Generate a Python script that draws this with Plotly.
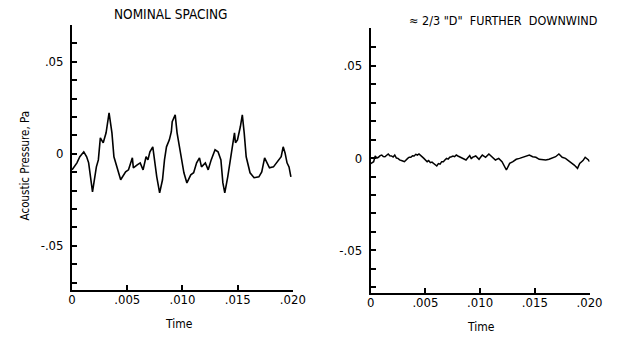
import plotly.graph_objects as go

# ---- data ----
time_left = [0.0, 0.00044, 0.0007, 0.00106, 0.00132, 0.0015, 0.00185, 0.00203, 0.0022, 0.00238,
             0.00256, 0.00282, 0.00308, 0.00335, 0.00361, 0.00379, 0.00414, 0.0044, 0.00485, 0.00511,
             0.00546, 0.00555, 0.0059, 0.00617, 0.00643, 0.0067, 0.00687, 0.00705, 0.00731, 0.00749,
             0.00767, 0.00793, 0.00819, 0.00837, 0.00855, 0.00881, 0.00899, 0.00907, 0.00934, 0.00951,
             0.00987, 0.01013, 0.0104, 0.01075, 0.01101, 0.01128, 0.01154, 0.01172, 0.01207, 0.01233,
             0.0126, 0.01295, 0.01322, 0.01348, 0.01366, 0.01383, 0.0141, 0.01436, 0.01454, 0.01471,
             0.0148, 0.01498, 0.01524, 0.01542, 0.01559, 0.01577, 0.01612, 0.01648, 0.01692, 0.01718,
             0.01744, 0.01771, 0.01788, 0.01824, 0.0185, 0.01877, 0.01894, 0.01912, 0.01929, 0.01947,
             0.01965, 0.01982]
pressure_left = [-0.0087, -0.0049, -0.0016, 0.0011, -0.0016, -0.0049, -0.0207, -0.0141, -0.0071, -0.0033,
                 0.0087, 0.006, 0.0114, 0.0223, 0.0114, -0.0016, -0.0087, -0.0141, -0.0098, -0.0087,
                 -0.0022, -0.0076, -0.006, -0.0049, -0.0087, -0.0016, -0.0033, 0.0011, 0.0038, -0.0049,
                 -0.0125, -0.0212, -0.0141, -0.0033, 0.0038, 0.0076, 0.012, 0.0174, 0.0212, 0.0114,
                 -0.0016, -0.0103, -0.0158, -0.0114, -0.0103, -0.0049, -0.0022, -0.0071, -0.0049, -0.0087,
                 -0.0033, 0.0022, 0.0011, -0.0033, -0.0158, -0.0212, -0.0125, -0.0033, 0.0038, 0.0114,
                 0.006, 0.0076, 0.0147, 0.0212, 0.0114, -0.0016, -0.0103, -0.013, -0.0125, -0.0098,
                 -0.0022, -0.006, -0.0076, -0.0071, -0.0049, -0.0033, -0.0016, 0.0038, 0.0005, -0.0049,
                 -0.0071, -0.0125]

time_right = [0.0, 0.00027, 0.00041, 0.00056, 0.00071, 0.00086, 0.00101, 0.00115, 0.0013, 0.00145,
              0.0016, 0.00175, 0.0019, 0.00205, 0.0022, 0.00235, 0.00249, 0.00264, 0.00279, 0.00293,
              0.00308, 0.00323, 0.00338, 0.00352, 0.00367, 0.00382, 0.00397, 0.00412, 0.00427, 0.00441,
              0.00456, 0.00471, 0.00486, 0.00501, 0.00516, 0.0053, 0.00545, 0.0056, 0.00575, 0.0059,
              0.00604, 0.00619, 0.00634, 0.00649, 0.00664, 0.00678, 0.00693, 0.00708, 0.00723, 0.00738,
              0.00752, 0.00767, 0.00782, 0.00797, 0.00812, 0.00826, 0.00841, 0.00856, 0.00871, 0.00886,
              0.00905, 0.0092, 0.0093, 0.0096, 0.0099, 0.0102, 0.0105, 0.0108, 0.0111, 0.0114,
              0.0117, 0.012, 0.0124, 0.0127, 0.013, 0.0133, 0.0136, 0.0139, 0.0142, 0.0145,
              0.0148, 0.0151, 0.0154, 0.0157, 0.016, 0.0163, 0.0166, 0.0169, 0.0172, 0.0175,
              0.0178, 0.018, 0.0183, 0.0186, 0.0189, 0.0191, 0.0194, 0.0196, 0.0199, 0.0200]
pressure_right = [-0.003, -0.002, 0.0011, 0.0, 0.0004, 0.0013, 0.0016, 0.0008, 0.0007, 0.0015,
                  0.0022, 0.0012, 0.0011, 0.0005, 0.0016, 0.0, -0.0002, -0.001, -0.0011, -0.0016,
                  -0.002, -0.0008, -0.0002, 0.0004, 0.0004, 0.0012, 0.0011, 0.002, 0.0016, 0.0022,
                  0.0011, 0.0006, -0.0002, -0.001, -0.002, -0.0014, -0.0025, -0.0022, -0.0029, -0.0035,
                  -0.0043, -0.003, -0.0033, -0.002, -0.002, -0.0011, -0.0002, -0.0006, 0.0004, 0.0007,
                  0.0011, 0.0007, 0.0016, 0.0011, 0.0007, 0.0002, -0.0002, -0.0007, -0.0011, 0.0,
                  0.0013, -0.0005, 0.0004, 0.0011, -0.0007, 0.0016, 0.0004, 0.0022, 0.0007, -0.0011,
                  -0.0002, -0.002, -0.0065, -0.0029, -0.002, -0.0007, -0.0002, 0.0004, 0.0011, 0.0016,
                  0.0007, 0.0004, -0.0007, -0.0011, -0.0011, -0.0007, -0.0002, 0.0007, 0.0022, 0.0004,
                  -0.0002, -0.0011, -0.002, -0.0038, -0.0056, -0.0029, -0.0014, 0.0004, -0.0011, -0.002]

y_tick_vals = [-0.07, -0.06, -0.05, -0.04, -0.03, -0.02, -0.01, 0.0, 0.01, 0.02, 0.03, 0.04, 0.05, 0.06, 0.07]
y_tick_text = ["", "", "-.05", "", "", "", "", "0", "", "", "", "", ".05", "", ""]
x_tick_vals = [0.0, 0.005, 0.010, 0.015, 0.020]
x_tick_text = ["0", ".005", ".010", ".015", ".020"]

titles = ["NOMINAL SPACING", "\u2248 2/3 \"D\"  FURTHER  DOWNWIND"]
y_title = "Acoustic Pressure, Pa"
x_title = "Time"

W, H = 622, 341
FONT = "Liberation Sans Narrow, DejaVu Sans Condensed, Arial Narrow, Liberation Sans, sans-serif"

fig = go.Figure()
fig.add_trace(go.Scatter(x=time_left, y=pressure_left, mode="lines",
                         line=dict(color="black", width=1.6), xaxis="x", yaxis="y", showlegend=False))
fig.add_trace(go.Scatter(x=time_right, y=pressure_right, mode="lines",
                         line=dict(color="black", width=1.5), xaxis="x2", yaxis="y2", showlegend=False))

def xax(x0, x1):
    return dict(domain=[x0 / W, x1 / W], range=[0, 0.02], showgrid=False, zeroline=False,
                showline=True, linecolor="black", linewidth=2, ticks="inside", ticklen=5,
                tickwidth=1.5, tickcolor="black", tickvals=x_tick_vals, ticktext=x_tick_text,
                tickfont=dict(family=FONT, size=13, color="black"), ticklabelstandoff=-4)

def yax(ytop, ybot, rtop, rbot):
    return dict(domain=[1 - ybot / H, 1 - ytop / H], range=[rbot, rtop], showgrid=False,
                zeroline=False, showline=True, linecolor="black", linewidth=2, ticks="inside",
                ticklen=5, tickwidth=1.5, tickcolor="black", tickvals=y_tick_vals,
                ticktext=y_tick_text, tickfont=dict(family=FONT, size=13, color="black"),
                ticklabelstandoff=4)

lx = xax(70, 297)
lx["anchor"] = "y"
ly = yax(25, 290, 0.070, -0.074)
ly["anchor"] = "x"
rx = xax(377, 602)
rx["anchor"] = "y2"
ry = yax(28, 293, 0.0703, -0.073)
ry["anchor"] = "x2"

fig.update_layout(
    width=W, height=H, margin=dict(l=0, r=0, t=0, b=0),
    paper_bgcolor="white", plot_bgcolor="white",
    xaxis=lx, yaxis=ly, xaxis2=rx, yaxis2=ry,
    font=dict(family=FONT, color="black"),
)

def ann(text, x, y, size=11, angle=0):
    fig.add_annotation(text=text, x=x / W, y=1 - y / H, xref="paper", yref="paper",
                       showarrow=False, textangle=angle,
                       font=dict(family=FONT, size=size, color="black"),
                       xanchor="center", yanchor="middle")

ann(titles[0], 172, 14, 13.5)
ann(titles[1], 513, 21, 12.5)
ann(y_title, 22, 166, 11.5, -90)
ann(x_title, 180, 324, 12)
ann(x_title, 490, 327, 12)

fig.write_html("out.html", config={"displayModeBar": False},
               post_script="document.body.style.margin='0px';document.body.style.padding='0px';")
